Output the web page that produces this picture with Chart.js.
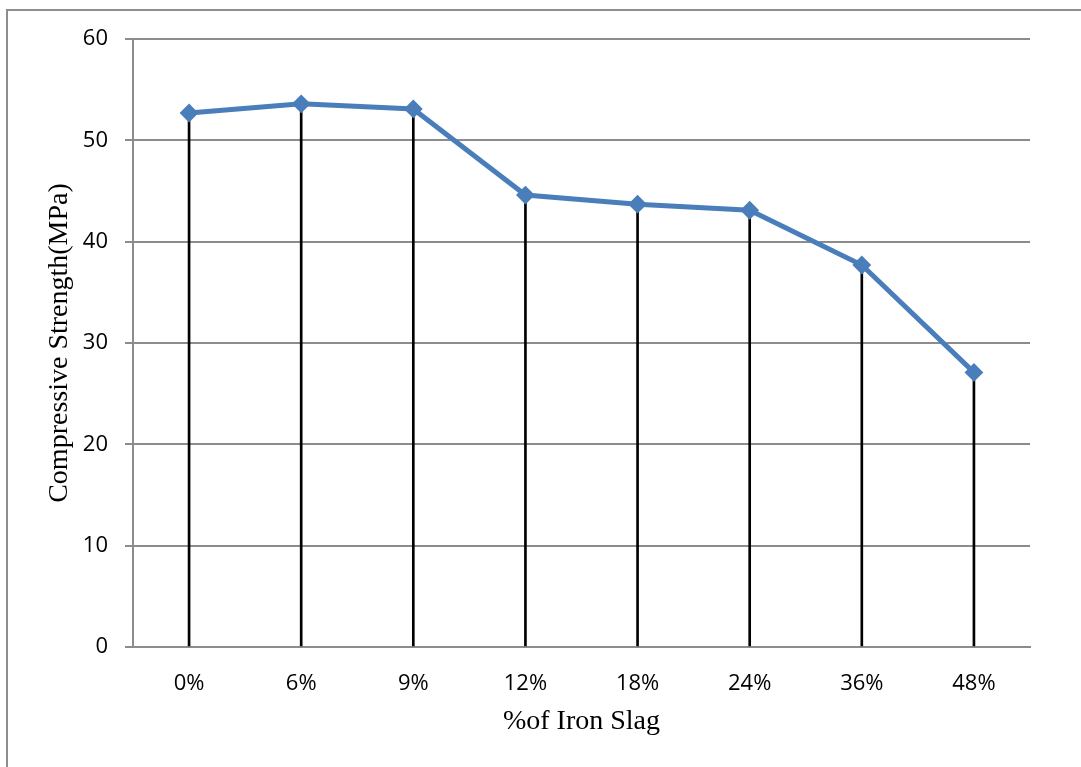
<!DOCTYPE html>
<html>
<head>
<meta charset="utf-8">
<script src="https://cdn.jsdelivr.net/npm/chart.js@4/dist/chart.umd.min.js"></script>
<style>
  html, body { margin: 0; padding: 0; background: #ffffff; overflow: hidden; }
  #wrap { position: relative; width: 1081px; height: 767px; }
  #frame {
    position: absolute; left: 6px; top: 9px; width: 1200px; height: 900px;
    border-left: 2px solid #8e8e8e; border-top: 2px solid #8e8e8e;
    pointer-events: none;
  }
  canvas { position: absolute; left: 0; top: 0; }
</style>
</head>
<body>
<div id="wrap">
  <canvas id="chart" width="1081" height="767"></canvas>
  <div id="frame"></div>
</div>
<script>
// Iron slag replacement levels and the measured compressive strength
const slagLevels = ['0%', '6%', '9%', '12%', '18%', '24%', '36%', '48%'];
const strengthMPa = [52.7, 53.6, 53.1, 44.6, 43.7, 43.1, 37.7, 27.1];
const yTicks = [0, 10, 20, 30, 40, 50, 60];

const xTitle = '%of Iron Slag';
const yTitle = 'Compressive Strength(MPa)';

const gridGray = '#8c8c8c';
const tickFont = { family: '"Open Sans", "Liberation Sans", sans-serif', size: 22 };
const titleFont = { family: '"Liberation Serif", "Times New Roman", serif', size: 28 };

new Chart(document.getElementById('chart'), {
  data: {
    labels: slagLevels,
    datasets: [
      {
        type: 'line',
        data: strengthMPa,
        order: 0,
        borderColor: '#4a7ebb',
        backgroundColor: '#4a7ebb',
        borderWidth: 5,
        tension: 0,
        pointStyle: 'rectRot',
        pointRadius: 8,
        pointBorderWidth: 2,
        pointBackgroundColor: '#4a7ebb',
        pointBorderColor: '#4a7ebb'
      },
      {
        // thin drop lines from each value down to the category axis
        type: 'bar',
        data: strengthMPa,
        order: 1,
        backgroundColor: '#000000',
        borderWidth: 0,
        barThickness: 2
      }
    ]
  },
  options: {
    responsive: false,
    animation: false,
    events: [],
    layout: { padding: { left: 0, top: 39, right: 51, bottom: 0 } },
    plugins: { legend: { display: false }, tooltip: { enabled: false } },
    scales: {
      x: {
        afterFit: (s) => { s.height = 120; },
        grid: { display: false, drawTicks: false },
        border: { display: true, color: gridGray, width: 2 },
        ticks: { color: '#000', font: tickFont, padding: 24 },
        title: {
          display: true, text: xTitle, color: '#000', font: titleFont,
          padding: { top: 0, bottom: 29 }
        }
      },
      y: {
        min: 0, max: 60,
        afterFit: (s) => { s.width = 133; },
        afterBuildTicks: (s) => { s.ticks = yTicks.map(v => ({ value: v })); },
        grid: { color: gridGray, lineWidth: 2, drawTicks: true, tickLength: 8, tickColor: gridGray },
        border: { display: true, color: gridGray, width: 2 },
        ticks: { color: '#000', font: tickFont, padding: 17 },
        title: {
          display: true, text: yTitle, color: '#000', font: titleFont,
          padding: { top: 43, bottom: 0 }
        }
      }
    }
  }
});
</script>
</body>
</html>
